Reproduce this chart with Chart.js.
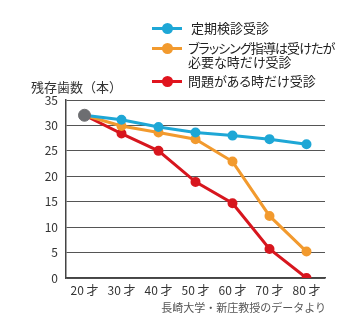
<!DOCTYPE html>
<html><head><meta charset="utf-8">
<script src="https://cdn.jsdelivr.net/npm/chart.js@4"></script>
<style>
body{margin:0;background:#fff;font-family:"Noto Sans CJK JP",sans-serif;}
#wrap{position:relative;width:364px;height:333px;}
.lg{position:absolute;left:152px;font-size:13px;color:#222;line-height:14px;font-feature-settings:"palt";}
.lg i{position:absolute;left:0;top:6px;width:30px;height:3px;}
.lg b{position:absolute;left:10px;top:2px;width:11px;height:11px;border-radius:50%;}
.lg span{position:absolute;left:36px;top:0;white-space:nowrap;}
.lg em{font-style:normal;letter-spacing:-0.9px;}
#ytitle{position:absolute;left:31px;top:77px;font-size:13px;color:#333;}
#src{position:absolute;right:38px;top:299px;font-size:11px;color:#555;}
</style></head>
<body><div id="wrap">
<canvas id="myChart" width="364" height="333"></canvas>
<div class="lg" style="top:21px"><i style="background:#1ea7d6"></i><b style="background:#1ea7d6"></b><span>&nbsp;定期検診受診</span></div>
<div class="lg" style="top:41px"><i style="background:#f29a2e"></i><b style="background:#f29a2e"></b><span><em>ブラッシング指導は受けたが</em><br>必要な時だけ受診</span></div>
<div class="lg" style="top:74px"><i style="background:#e0141e"></i><b style="background:#e0141e"></b><span>問題がある時だけ受診</span></div>
<div id="ytitle">残存歯数（本）</div>
<div id="src">長崎大学・新庄教授のデータより</div>
</div>
<script>
var ages = ['20 才', '30 才', '40 才', '50 才', '60 才', '70 才', '80 才'];
var regular = [32, 31.1, 29.7, 28.6, 28.0, 27.3, 26.3];
var brushing = [32, 29.9, 28.6, 27.3, 22.9, 12.2, 5.2];
var problem = [32, 28.4, 25.0, 18.9, 14.7, 5.7, 0];
var start = [32, null, null, null, null, null, null];
var yTicks = [0, 5, 10, 15, 20, 25, 30, 35];

var ctx = document.getElementById('myChart').getContext('2d');
var myChart = new Chart(ctx, {
  type: 'line',
  data: {
    labels: ages,
    datasets: [{
        data: start,
        borderColor: '#6d6e71',
        backgroundColor: '#6d6e71',
        pointRadius: 6,
        showLine: false
      }, {
        data: regular,
        label: '定期検診受診',
        borderColor: '#1ea7d6',
        backgroundColor: '#1ea7d6',
        borderWidth: 3,
        pointRadius: 3.5
      }, {
        data: brushing,
        label: 'ブラッシング指導は受けたが必要な時だけ受診',
        borderColor: '#f29a2e',
        backgroundColor: '#f29a2e',
        borderWidth: 3,
        pointRadius: 3.5
      }, {
        data: problem,
        label: '問題がある時だけ受診',
        borderColor: '#d7161e',
        backgroundColor: '#d7161e',
        borderWidth: 3,
        pointRadius: 3.5
      }
    ]
  },
  options: {
    responsive: false,
    animation: false,
    layout: {padding: {left: 0, right: 39, top: 100, bottom: 0}},
    plugins: {legend: {display: false}, tooltip: {enabled: false}},
    scales: {
      x: {
        offset: true,
        grid: {display: false, drawTicks: false},
        border: {color: '#444', width: 1.5},
        ticks: {color: '#333', font: {family: 'Noto Sans CJK JP', size: 12}, padding: 5},
        afterFit: function(s) { s.height = 55; }
      },
      y: {
        min: 0, max: 35,
        afterBuildTicks: function(s) { s.ticks = yTicks.map(function(v) { return {value: v}; }); },
        grid: {color: '#555', lineWidth: 1, drawTicks: false},
        border: {color: '#444', width: 1.5},
        ticks: {color: '#333', font: {family: 'Noto Sans CJK JP', size: 12}, padding: 8},
        afterFit: function(s) { s.width = 66; }
      }
    }
  }
});
</script>
</body></html>
